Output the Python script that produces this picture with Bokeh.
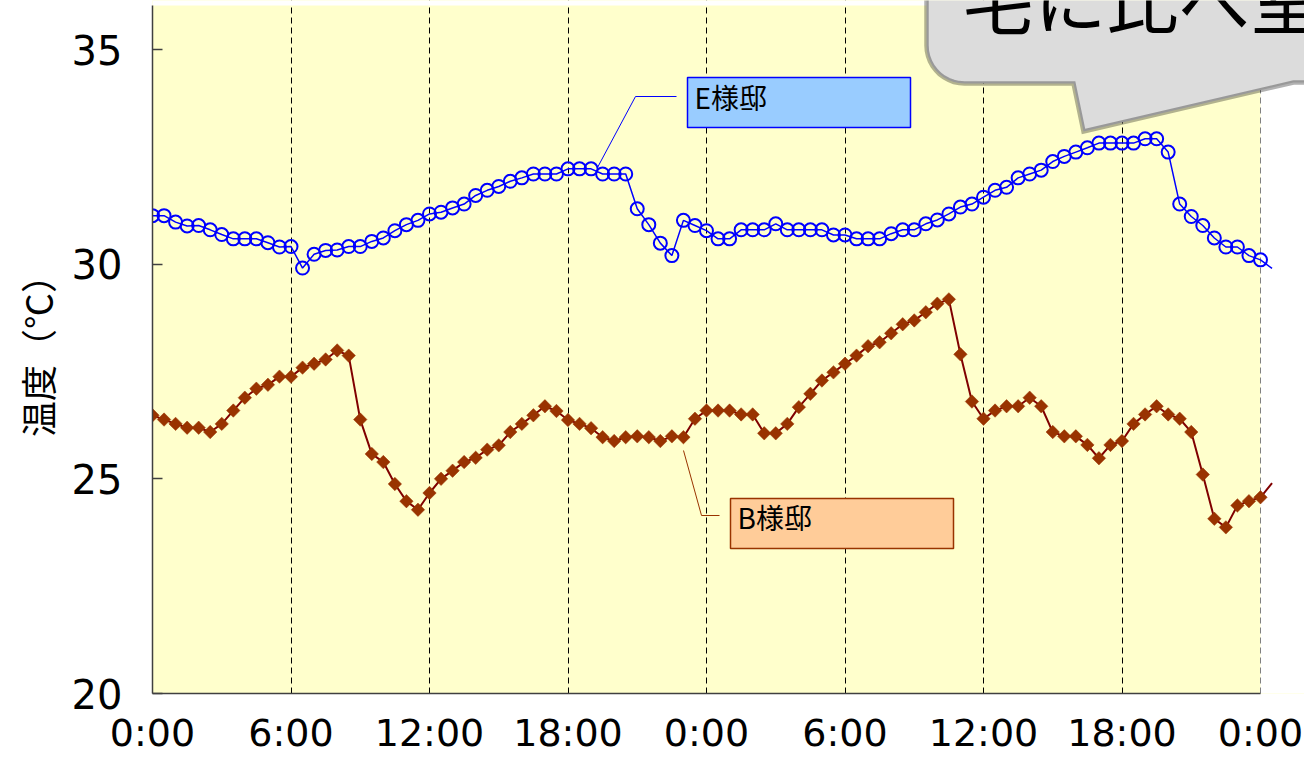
import numpy as np
from bokeh.plotting import figure
from bokeh.models import FixedTicker, Label, PolyAnnotation, BoxAnnotation
from bokeh.embed import file_html
from bokeh.resources import INLINE

# Half-hourly room temperatures (°C), from 23:30 before day 1 through 0:30 after day 2
hours = [i * 0.5 for i in range(-1, 98)]

e_temp = [
    31.60,
    31.13, 31.13, 30.98, 30.89, 30.90, 30.80, 30.69, 30.59, 30.59, 30.59,
    30.50, 30.40, 30.41, 29.91, 30.23, 30.32, 30.33, 30.41, 30.41, 30.53,
    30.61, 30.78, 30.92, 31.02, 31.17, 31.21, 31.31, 31.40, 31.60, 31.72,
    31.81, 31.93, 32.01, 32.10, 32.10, 32.10, 32.22, 32.22, 32.22, 32.10,
    32.10, 32.10, 31.29, 30.92, 30.49, 30.20, 31.02, 30.90, 30.78, 30.59,
    30.59, 30.80, 30.80, 30.80, 30.94, 30.80, 30.80, 30.80, 30.80, 30.68,
    30.68, 30.59, 30.59, 30.59, 30.71, 30.80, 30.80, 30.94, 31.03, 31.17,
    31.33, 31.40, 31.56, 31.72, 31.79, 32.01, 32.10, 32.19, 32.39, 32.51,
    32.61, 32.71, 32.82, 32.82, 32.82, 32.82, 32.92, 32.92, 32.61, 31.40,
    31.11, 30.90, 30.61, 30.40, 30.40, 30.20, 30.10,
    29.90,
]

b_temp = [
    26.50,
    26.48, 26.38, 26.28, 26.19, 26.19, 26.09, 26.28, 26.59, 26.89, 27.10,
    27.19, 27.38, 27.38, 27.59, 27.68, 27.78, 27.99, 27.87, 26.38, 25.58,
    25.39, 24.88, 24.48, 24.28, 24.67, 25.00, 25.19, 25.39, 25.49, 25.68,
    25.78, 26.09, 26.28, 26.48, 26.69, 26.58, 26.37, 26.28, 26.18, 25.97,
    25.88, 25.97, 25.99, 25.97, 25.88, 25.99, 25.97, 26.40, 26.59, 26.59,
    26.59, 26.50, 26.50, 26.06, 26.06, 26.28, 26.67, 26.98, 27.29, 27.48,
    27.68, 27.87, 28.09, 28.18, 28.39, 28.60, 28.69, 28.88, 29.08, 29.18,
    27.90, 26.80, 26.40, 26.59, 26.69, 26.69, 26.89, 26.69, 26.09, 25.99,
    25.99, 25.79, 25.48, 25.79, 25.88, 26.28, 26.50, 26.69, 26.50, 26.40,
    26.09, 25.10, 24.07, 23.87, 24.38, 24.48, 24.57,
    24.90,
]

x_ticks = [0, 6, 12, 18, 24, 30, 36, 42, 48]
x_tick_labels = ["0:00", "6:00", "12:00", "18:00", "0:00", "6:00", "12:00", "18:00", "0:00"]
y_ticks = [20, 25, 30, 35]

series_names = ["E様邸", "B様邸"]
y_title = "温度（℃）"
callout_text = "宅に比べ室"

# ---- layout (pixels) ----
W, H = 1304, 757
LEFT, BOTTOM = 152, 64
PLOT_RIGHT = 1260          # right end of the 48-hour span
PLOT_TOP = 5               # top end of the value axis
FW, FH = W - LEFT, H - BOTTOM
PX_PER_H = (PLOT_RIGHT - LEFT) / 48.0
PX_PER_DEG = (693 - 49) / 15.0
X1 = FW / PX_PER_H
Y0 = 20
Y1 = Y0 + FH / PX_PER_DEG
Y_TOP = Y0 + (FH - PLOT_TOP) / PX_PER_DEG

p = figure(width=W, height=H, x_range=(0, X1), y_range=(Y0, Y1),
           output_backend="svg", toolbar_location=None,
           min_border_left=LEFT, min_border_right=0,
           min_border_top=0, min_border_bottom=BOTTOM)
p.background_fill_color = "#FFFFCC"
p.border_fill_color = "white"
p.outline_line_color = None

# white margins around the chart area (inside the drawing frame)
p.add_layout(BoxAnnotation(left=48, fill_color="white", fill_alpha=1.0,
                           line_color=None, level="underlay"))
p.add_layout(BoxAnnotation(bottom=Y_TOP, fill_color="white", fill_alpha=1.0,
                           line_color=None, level="underlay"))

# axes
p.xaxis.ticker = FixedTicker(ticks=x_ticks)
p.xaxis.major_label_overrides = {t: lab for t, lab in zip(x_ticks, x_tick_labels)}
p.xaxis.bounds = (0, 48)
p.yaxis.ticker = FixedTicker(ticks=y_ticks)
p.yaxis.bounds = (Y0, Y_TOP)
for ax in (p.xaxis[0], p.yaxis[0]):
    ax.axis_line_color = "#404040"
    ax.axis_line_width = 1.5
    ax.minor_tick_line_color = None
    ax.major_label_text_font = "DejaVu Sans"
    ax.major_label_text_color = "black"
p.xaxis.major_tick_line_color = None
p.xaxis.major_tick_in = 0
p.xaxis.major_tick_out = 0
p.xaxis.major_label_text_font_size = "38px"
p.xaxis.major_label_text_line_height = 0.9
p.xaxis.major_label_standoff = 17
p.yaxis.major_tick_in = 10
p.yaxis.major_tick_out = 0
p.yaxis.major_tick_line_color = "#404040"
p.yaxis.major_tick_line_width = 1.5
p.yaxis.major_label_text_font_size = "40px"
p.yaxis.major_label_standoff = 30
p.yaxis.axis_label = y_title
p.yaxis.axis_label_text_font = "Noto Sans CJK JP"
p.yaxis.axis_label_text_font_size = "36px"
p.yaxis.axis_label_text_font_style = "normal"
p.yaxis.axis_label_text_color = "black"
p.yaxis.axis_label_text_line_height = 1.0
p.yaxis.axis_label_standoff = 6

p.xgrid.ticker = FixedTicker(ticks=x_ticks)
p.xgrid.grid_line_color = "black"
p.xgrid.grid_line_dash = "6 4"
p.xgrid.grid_line_width = 1
p.ygrid.grid_line_color = None

# series: lines run through all readings, markers only inside the 48 h span
inner = slice(1, len(hours) - 1)
p.line(hours, e_temp, line_color="#0000FF", line_width=1.5)
p.scatter(hours[inner], e_temp[inner], marker="circle", size=13, fill_color=None,
          line_color="#0000FF", line_width=2)
p.line(hours, b_temp, line_color="#800000", line_width=2)
p.scatter(hours[inner], b_temp[inner], marker="square", size=9.5, angle=np.pi / 4,
          fill_color="#993300", line_color="#993300", line_width=0.5)


# helpers: page pixel -> data / frame-relative screen units
def dx(px):
    return (px - LEFT) / PX_PER_H


def dy(py):
    return Y0 + (FH - py) / PX_PER_DEG


def sx(px):
    return px - LEFT


def sy(py):
    return FH - py


# series tags with leader lines
tags = [
    dict(name=series_names[0], box=(687, 910, 77, 127), fill="#99CCFF", edge="#0000FF",
         leader=[(676, 96), (635, 96), (597, 167)], text_xy=(694, 96)),
    dict(name=series_names[1], box=(730, 953, 498, 548), fill="#FFCC99", edge="#993300",
         leader=[(719, 515), (701, 515), (683, 450)], text_xy=(737, 516)),
]
for t in tags:
    lx = [dx(a) for a, _ in t["leader"]]
    ly = [dy(b) for _, b in t["leader"]]
    p.line(lx, ly, line_color=t["edge"], line_width=1)
    l, r, tp, bt = t["box"]
    p.add_layout(BoxAnnotation(left=sx(l), right=sx(r), top=sy(tp), bottom=sy(bt),
                               left_units="screen", right_units="screen",
                               top_units="screen", bottom_units="screen",
                               fill_color=t["fill"], fill_alpha=1.0,
                               line_color=t["edge"], line_width=1.5, line_alpha=1.0))
    p.add_layout(Label(x=sx(t["text_xy"][0]), y=sy(t["text_xy"][1]),
                       x_units="screen", y_units="screen", text=t["name"],
                       text_font="Noto Sans CJK JP", text_font_size="28px",
                       text_color="black", text_baseline="middle", text_align="left"))

# callout bubble in the top-right corner
r = 38
ang = np.linspace(np.pi, np.pi / 2, 12)
arc_x = list(926 + r + r * np.cos(ang))
arc_y = list(83 - r + r * np.sin(ang))
bx = [926, 926] + arc_x + [1073, 1083, 1293, 1420, 1420]
by = [-80, 83 - r] + arc_y + [83, 131, 82, 82, -80]
p.add_layout(PolyAnnotation(xs=[sx(v) for v in bx], ys=[sy(v) for v in by],
                            xs_units="screen", ys_units="screen",
                            fill_color="#DCDCDC", fill_alpha=1.0,
                            line_color="black", line_width=4.5, line_join="miter"))
p.add_layout(Label(x=sx(962), y=sy(-4), x_units="screen", y_units="screen",
                   text=callout_text, text_font="Noto Sans CJK JP",
                   text_font_size="72px", text_color="black",
                   text_baseline="middle", text_align="left"))

open("out.html", "w").write(file_html(p, INLINE))
